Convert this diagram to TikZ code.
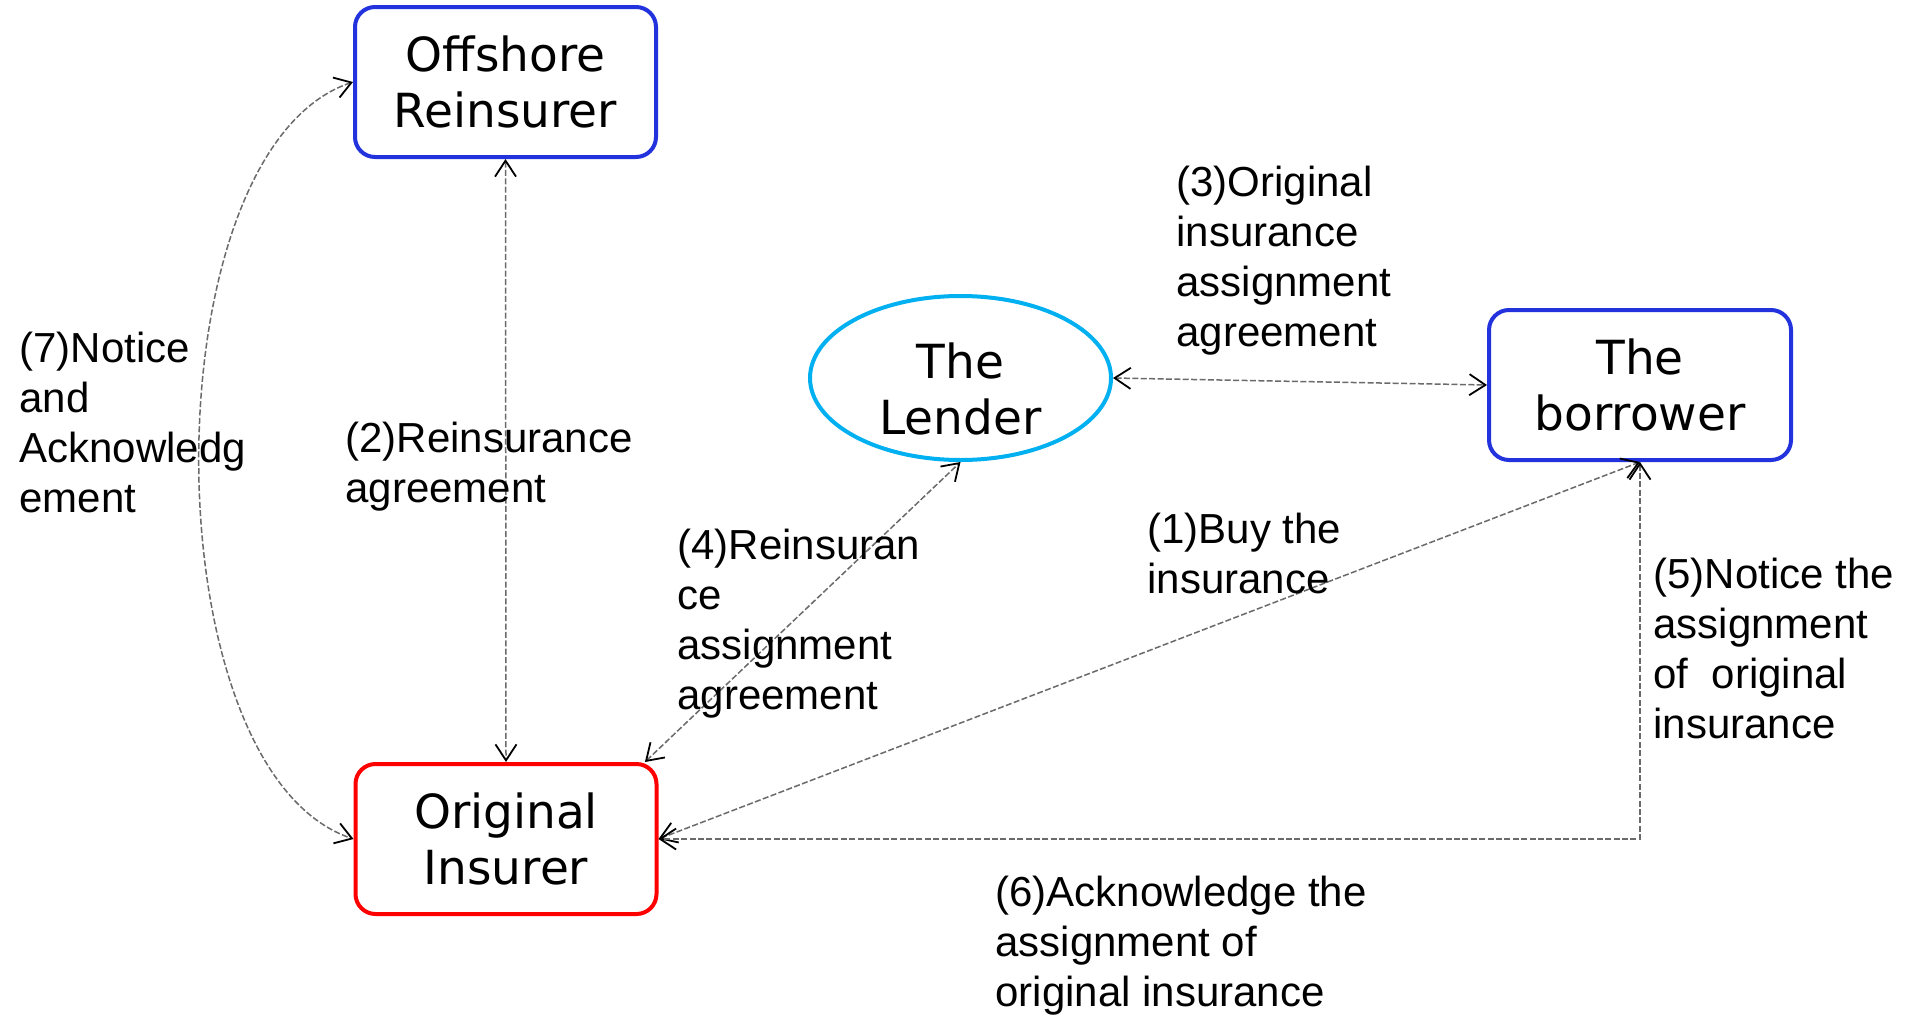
\documentclass[tikz,border=0pt]{standalone}
\usepackage{fontspec}
\setmainfont{Liberation Sans}
\newfontfamily\boxfont{DejaVu Sans}
\usetikzlibrary{arrows.meta,shapes.geometric}

\definecolor{partyblue}{HTML}{2233DD}
\definecolor{insurerred}{HTML}{FF0000}
\definecolor{lendercyan}{HTML}{00B0F0}
\definecolor{flowgray}{HTML}{6A6A6A}

\tikzset{
  barb/.tip={Straight Barb[length=8pt,width=10.5pt,line width=0.9pt,color=black]},
  partyfont/.style={font=\boxfont\fontsize{23.5pt}{28pt}\selectfont},
  party/.style={draw, line width=2pt, fill=white, rounded corners=10pt,
    minimum width=150.5pt, minimum height=75pt, inner sep=0pt, align=center,
    partyfont},
  flow/.style={draw=flowgray, line width=0.75pt, dash pattern=on 3pt off 1.2pt, barb-barb},
  note/.style={anchor=north west, align=left, inner sep=0pt,
    font=\fontsize{21pt}{25pt}\selectfont}
}

\begin{document}
\begin{tikzpicture}[x=0.5pt,y=-0.5pt]
  % canvas
  \fill[white] (0,0) rectangle (1905,1017);
  \useasboundingbox (0,0) rectangle (1905,1017);

  % parties
  \node[party, draw=partyblue] (off) at (505.5,82) {Offshore\\Reinsurer};
  \node[party, draw=insurerred] (orig) at (506,839) {Original\\Insurer};
  \node[party, draw=partyblue, minimum width=151pt] (bor) at (1640,385) {The\\borrower};
  \node[ellipse, draw=lendercyan, line width=2pt, fill=white, inner sep=0pt,
        minimum width=150.5pt, minimum height=82pt] (len) at (960.5,378) {};
  \node[align=center, inner sep=0pt, partyfont] (lentext) at (960.5,389) {The\\Lender};

  % agreements and notices
  \draw[flow] (off.south) -- (orig.north);
  \draw[flow] (off.west) .. controls (148,150) and (148,770) .. (orig.west);
  \draw[flow] (orig.29) -- (len.south);
  \draw[flow] (orig.east) -- (bor.south);
  \draw[flow] (bor.south) |- (orig.east);
  \draw[flow] (len.east) -- (bor.west);

  % labels
  \node[note] (l3) at (1176,166) {(3)Original\\insurance\\assignment\\agreement};
  \node[note] (l7) at (19,332) {(7)Notice\\and\\Acknowledg\\ement};
  \node[note] (l2) at (345,422) {(2)Reinsurance\\agreement};
  \node[note] (l4) at (677,529) {(4)Reinsuran\\ce\\assignment\\agreement};
  \node[note] (l1) at (1147,513) {(1)Buy the\\insurance};
  \node[note] (l5) at (1653,558) {(5)Notice the\\assignment\\of\ \ original\\insurance};
  \node[note] (l6) at (995,876) {(6)Acknowledge the\\assignment of\\original insurance};
\end{tikzpicture}
\end{document}
